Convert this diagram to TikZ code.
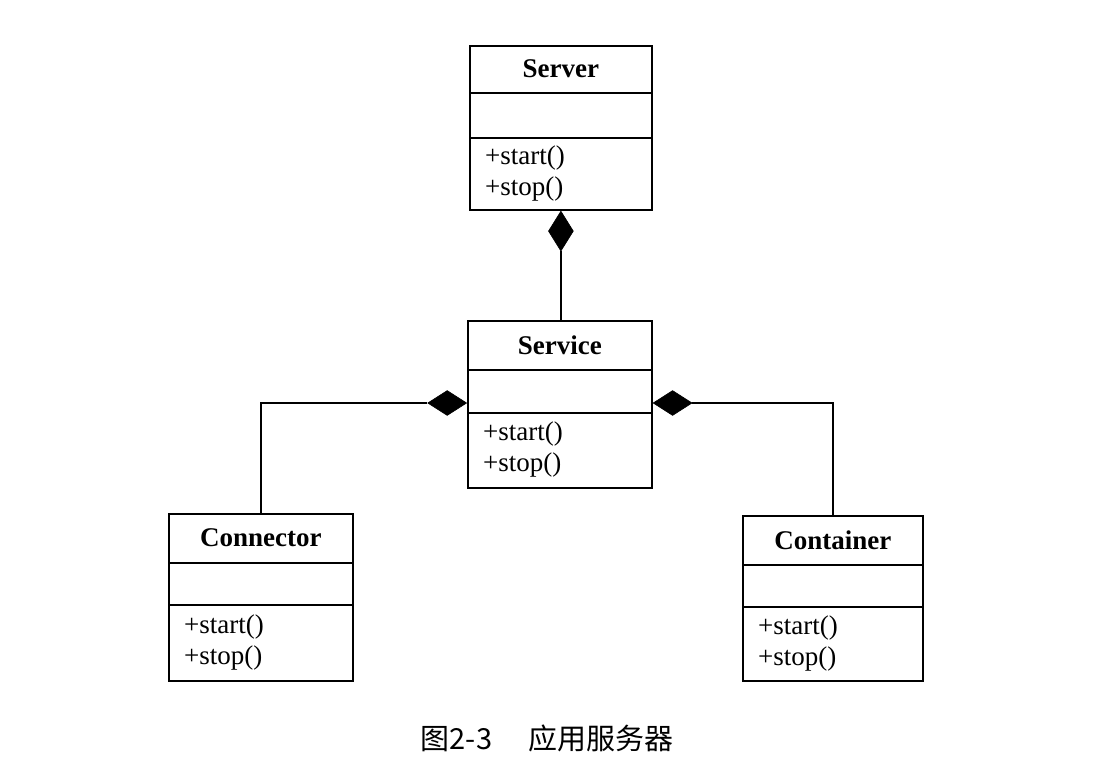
\documentclass[tikz,border=0pt]{standalone}
\usepackage{fontspec}
\setmainfont{Liberation Serif}
\newfontfamily\cjk{Noto Sans CJK SC}
\usetikzlibrary{shapes.geometric}
\newcommand\umlclass[8]{%
  \node[classbox, minimum width=#4pt, minimum height=#5pt] (#1) at (#2,#3) {};
  \draw[sepline] ([yshift=-#7pt]#1.north west) -- ([yshift=-#7pt]#1.north east);
  \draw[sepline] ([yshift=-#8pt]#1.north west) -- ([yshift=-#8pt]#1.north east);
  \node[titletext] (#1-title) at ([yshift={-0.5*#7pt}]#1.north) {#6};
  \node[opstext, anchor=west] (#1-ops) at ([xshift=16pt, yshift={-0.5*(#8+#5)*1pt}]#1.north west) {+start()\\+stop()};
}
\begin{document}
\begin{tikzpicture}[x=1pt,y=-1pt,
  classbox/.style={draw, line width=1.8pt, anchor=north west, inner sep=0pt},
  sepline/.style={line width=1.6pt},
  titletext/.style={font=\bfseries\fontsize{27}{30}\selectfont, inner sep=0pt},
  opstext/.style={font=\fontsize{27}{31}\selectfont, align=left, inner sep=0pt},
  vdiam/.style={diamond, fill=black, draw=black, line width=0.6pt, inner sep=0pt, minimum width=25pt, minimum height=40pt},
  hdiam/.style={diamond, fill=black, draw=black, line width=0.6pt, inner sep=0pt, minimum width=39pt, minimum height=25pt},
  link/.style={line width=1.3pt}]
\useasboundingbox[fill=white] (0,0) rectangle (1116,771);

\umlclass{server}{469}{45}{182}{164}{Server}{48}{93}
\umlclass{service}{467}{320}{184}{167}{Service}{50}{93}
\umlclass{connector}{168}{513}{184}{167}{Connector}{50}{92}
\umlclass{container}{742}{515}{180}{165}{Container}{50}{92}

\node[vdiam, anchor=north] (d1) at (server.south) {};
\node[hdiam, anchor=east] (d2) at ([yshift=-83pt]service.north west) {};
\node[hdiam, anchor=west] (d3) at ([yshift=-83pt]service.north east) {};

\draw[link] (d1.south) -- (d1.south |- service.north);
\draw[link] (d2.west) -| (connector.north);
\draw[link] (d3.east) -| (container.north);

\node[font=\cjk\fontsize{29}{32}\selectfont, inner sep=0pt] (caption) at (547,738) {图2-3\hspace{36pt}应用服务器};
\end{tikzpicture}
\end{document}
